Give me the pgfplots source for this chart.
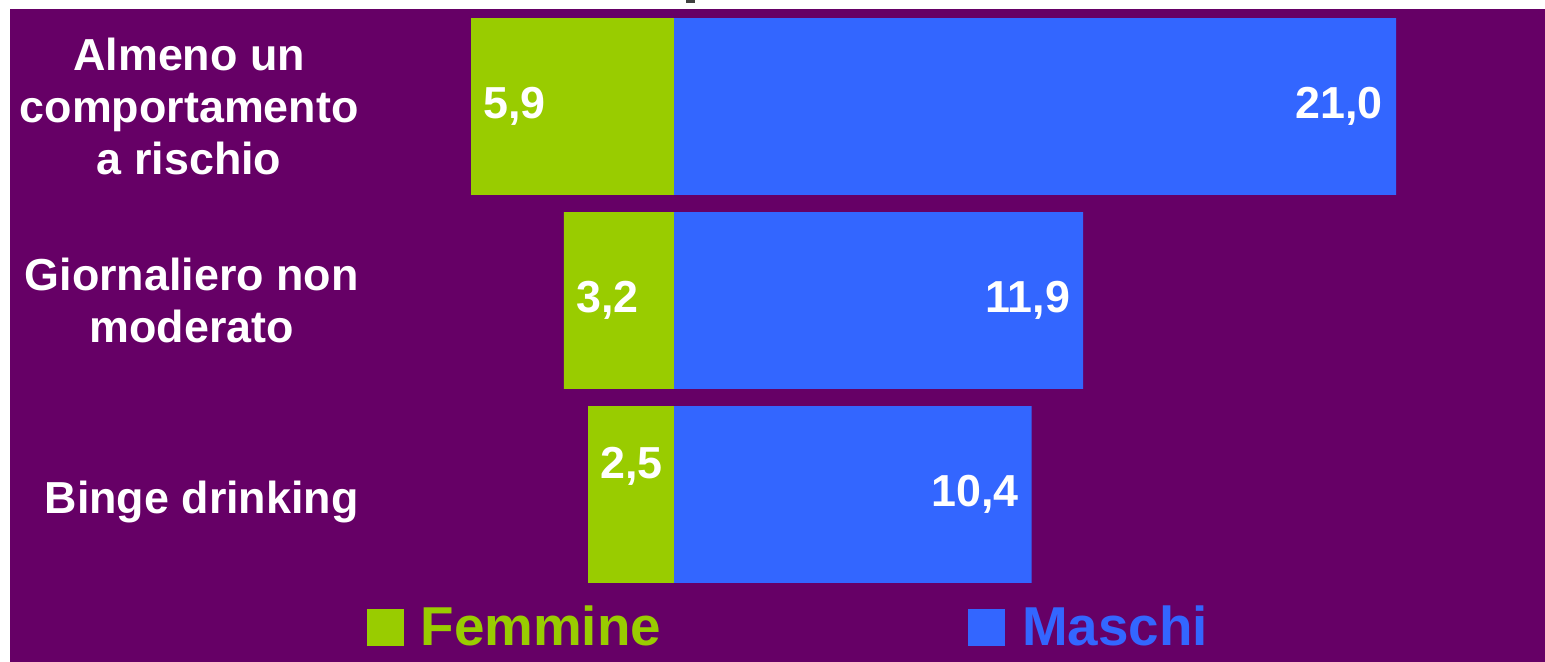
\documentclass[border=0pt]{standalone}
\usepackage{pgfplots}
\pgfplotsset{compat=1.18}
\usepackage{pgfplotstable}
\usepackage{fontspec}
\setmainfont{Liberation Sans}
\definecolor{bgpurple}{HTML}{660066}
\definecolor{femgreen}{HTML}{99CC00}
\definecolor{masblue}{HTML}{3366FF}

\pgfplotstableread{
y val lab
0 -5.9 5,9
1 -3.2 3,2
2 -2.5 2,5
}\femmine
\pgfplotstableread{
y val lab
0 21.0 21,0
1 11.9 11,9
2 10.4 10,4
}\maschi

\begin{document}
\begin{tikzpicture}
\fill[white] (-10bp,0) rectangle (1535bp,662bp);
\fill[black!75] (676bp,659bp) rectangle (685bp,662bp);
\begin{axis}[
  at={(0,0)}, anchor=south west,
  scale only axis, width=1535bp, height=653bp,
  xmin=-19.31, xmax=25.33,
  ymin=-0.5026, ymax=2.8634, y dir=reverse,
  xbar, bar width=0.912, bar shift=0pt,
  axis background/.style={fill=bgpurple},
  axis line style={draw=none},
  tick style={draw=none},
  xtick=\empty,
  ytick={0,1,2},
  yticklabels={{Almeno un\\comportamento\\a rischio},{Giornaliero non\\moderato},{\rule{0pt}{47bp}Binge drinking}},
  yticklabel style={align=center, anchor=east, inner sep=0pt, xshift=353bp,
    text=white, font=\fontsize{45}{52}\selectfont\bfseries},
  legend style={at={(0.507,0.055)}, anchor=center, draw=none, fill=none, legend columns=2,
    font=\fontsize{55}{60}\selectfont\bfseries,
    /tikz/every odd column/.append style={column sep=15bp},
    /tikz/every even column/.append style={column sep=305bp}},
  nodes near coords, point meta=explicit symbolic,
]
\addplot[fill=femgreen, draw=none,
  every node near coord/.append style={anchor=west, xshift=12bp, inner sep=0pt, text=white, font=\fontsize{45}{52}\selectfont\bfseries},
  coordinate style/.condition={\coordindex==2}{yshift=28bp},
  legend image code/.code={\fill[femgreen] (0bp,-20bp) rectangle (37bp,17bp);}]
  table[x=val, y=y, meta=lab]{\femmine};
\addlegendentry{\textcolor{femgreen}{Femmine}}
\addplot[fill=masblue, draw=none,
  every node near coord/.append style={anchor=east, xshift=-13bp, inner sep=0pt, text=white, font=\fontsize{45}{52}\selectfont\bfseries},
  legend image code/.code={\fill[masblue] (0bp,-20bp) rectangle (37bp,17bp);}]
  table[x=val, y=y, meta=lab]{\maschi};
\addlegendentry{\textcolor{masblue}{Maschi}}
\end{axis}
\pgfresetboundingbox
\path[use as bounding box] (-10bp,0) rectangle (1535bp,662bp);
\end{tikzpicture}
\end{document}
